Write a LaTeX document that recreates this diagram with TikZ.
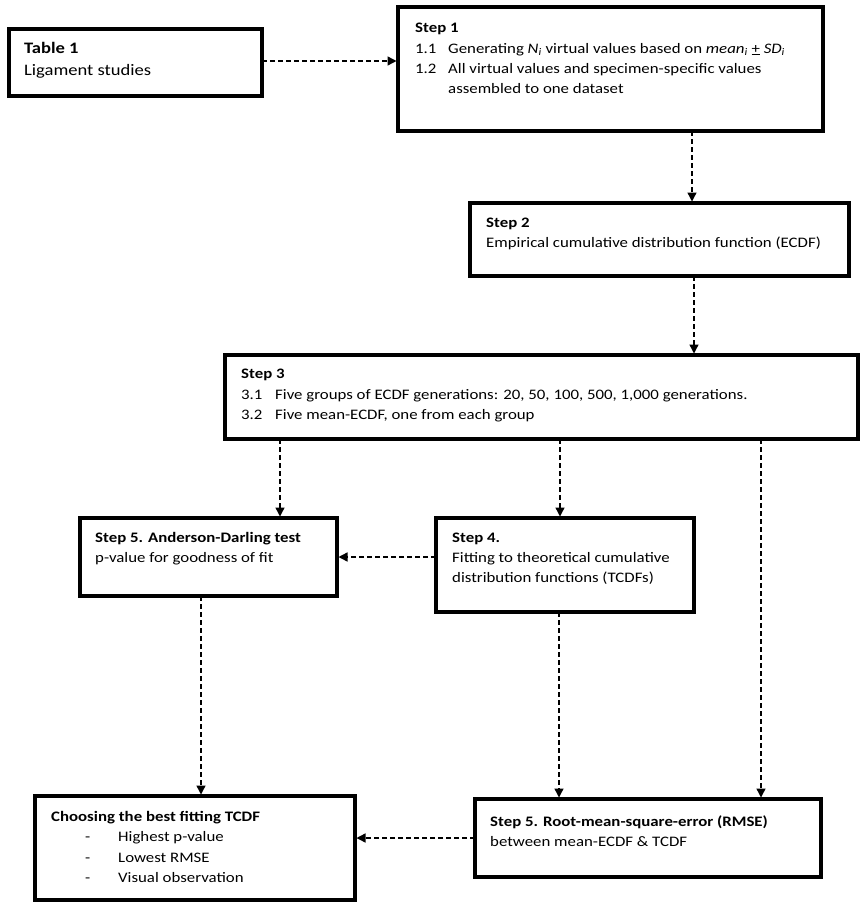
\documentclass[tikz,border=0pt]{standalone}
\usepackage{fontspec}
\setmainfont{Carlito}[FakeStretch=1.16]
\usetikzlibrary{arrows.meta,fit}
\tikzset{
 box/.style={draw, line width=4pt, inner sep=0pt, outer sep=0pt},
 flow/.style={draw, line width=1.4pt, dash pattern=on 5pt off 3pt, -{Triangle[length=9pt,width=9pt]}, shorten >=1.5pt},
 txt/.style={anchor=base west, inner sep=0pt, font=\fontsize{14.5}{17}\selectfont},
 big/.style={anchor=base west, inner sep=0pt, font=\fontsize{16}{19}\selectfont},
}
\begin{document}
\begin{tikzpicture}[x=1pt,y=-1pt]
\useasboundingbox[fill=white] (0,0) rectangle (865,908);
% boxes
\node[box, fit={(9,29) (262,96)}] (tab) {};
\node[box, fit={(398,7) (823,131)}] (s1) {};
\node[box, fit={(470,203) (849,276)}] (s2) {};
\node[box, fit={(225,355) (858,439)}] (s3) {};
\node[box, fit={(80,518) (337,596)}] (ad) {};
\node[box, fit={(436,518) (694,612)}] (s4) {};
\node[box, fit={(35,796) (355,900)}] (ch) {};
\node[box, fit={(475,799) (821,877)}] (rm) {};
% texts
\node[big] (tab1) at (24,53) {\textbf{Table 1}};
\node[big] (tab2) at (24,75) {Ligament studies};
\node[txt] (s1a) at (415,32) {\textbf{Step 1}};
\node[txt] (s1b) at (415,53) {1.1};
\node[txt] (s1c) at (448,53) {Generating \textit{N\textsubscript{i}} virtual values based on \textit{mean\textsubscript{i}} \underline{+} \textit{SD\textsubscript{i}}};
\node[txt] (s1d) at (415,73) {1.2};
\node[txt] (s1e) at (448,73) {All virtual values and specimen-specific values};
\node[txt] (s1f) at (448,93) {assembled to one dataset};
\node[txt] (s2a) at (486,227) {\textbf{Step 2}};
\node[txt] (s2b) at (486,247) {Empirical cumulative distribution function (ECDF)};
\node[txt] (s3a) at (241,378) {\textbf{Step 3}};
\node[txt] (s3b) at (241,399) {3.1};
\node[txt] (s3c) at (275,399) {Five groups of ECDF generations: 20, 50, 100, 500, 1,000 generations.};
\node[txt] (s3d) at (241,419) {3.2};
\node[txt] (s3e) at (275,419) {Five mean-ECDF, one from each group};
\node[txt] (ada) at (95,542) {\textbf{Step 5. Anderson-Darling test}};
\node[txt] (adb) at (95,562) {p-value for goodness of fit};
\node[txt] (s4a) at (452,542) {\textbf{Step 4.}};
\node[txt] (s4b) at (452,562) {Fitting to theoretical cumulative};
\node[txt] (s4c) at (452,582) {distribution functions (TCDFs)};
\node[txt] (cha) at (51,821) {\textbf{Choosing the best fitting TCDF}};
\node[txt] (chd1) at (85,841) {-};
\node[txt] (chb1) at (118,841) {Highest p-value};
\node[txt] (chd2) at (85,862) {-};
\node[txt] (chb2) at (118,862) {Lowest RMSE};
\node[txt] (chd3) at (85,882) {-};
\node[txt] (chb3) at (118,882) {Visual observation};
\node[txt] (rma) at (490,826) {\textbf{Step 5. Root-mean-square-error (RMSE)}};
\node[txt] (rmb) at (490,846) {between mean-ECDF \& TCDF};
% connectors
\draw[flow] (tab.east |- 0,61) -- (s1.west |- 0,61);
\draw[flow] (692,0 |- s1.south) -- (692,0 |- s2.north);
\draw[flow] (694,0 |- s2.south) -- (694,0 |- s3.north);
\draw[flow] (280,0 |- s3.south) -- (280,0 |- ad.north);
\draw[flow] (560,0 |- s3.south) -- (560,0 |- s4.north);
\draw[flow] (761,0 |- s3.south) -- (761,0 |- rm.north);
\draw[flow] (s4.west |- 0,557) -- (ad.east |- 0,557);
\draw[flow] (201,0 |- ad.south) -- (201,0 |- ch.north);
\draw[flow] (559,0 |- s4.south) -- (559,0 |- rm.north);
\draw[flow] (rm.west |- 0,838) -- (ch.east |- 0,838);
\end{tikzpicture}
\end{document}
